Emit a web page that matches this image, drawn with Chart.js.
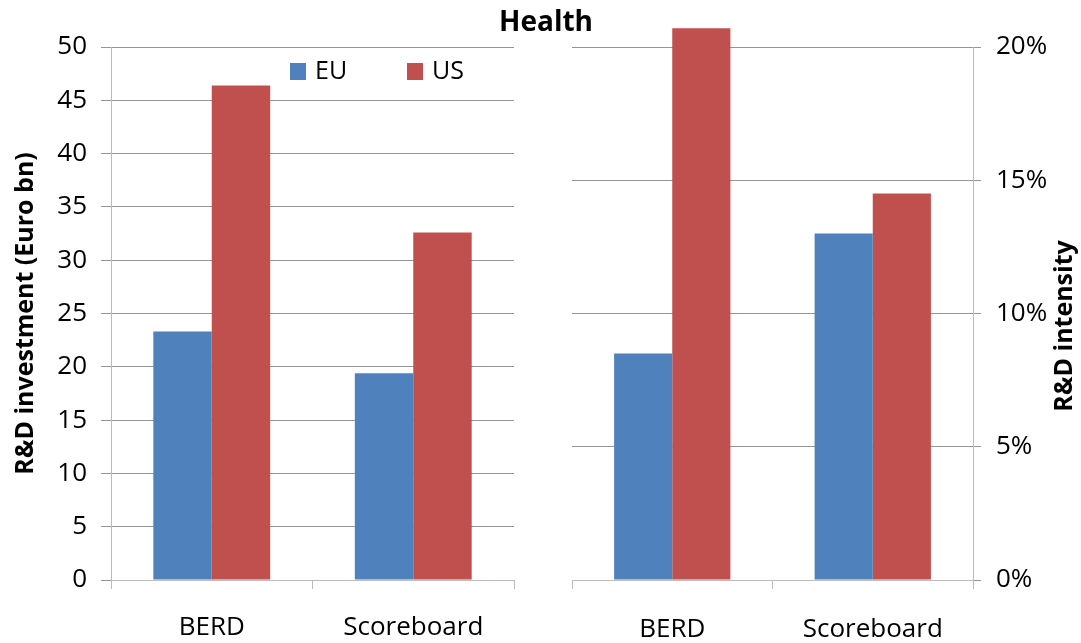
<!DOCTYPE html>
<html>
<head>
<meta charset="utf-8">
<script src="https://cdn.jsdelivr.net/npm/chart.js@4"></script>
<style>
  body { margin: 0; background: #fff; }
  #wrap { position: relative; width: 1081px; height: 643px; }
  canvas { position: absolute; top: 0; }
  #title { position: absolute; left: 0; width: 1092px; top: 1px; text-align: center;
           font: bold 28px 'Open Sans'; color: #000; }
</style>
</head>
<body>
<div id="wrap">
  <canvas id="left" width="540" height="643" style="left:0"></canvas>
  <canvas id="right" width="541" height="643" style="left:540px"></canvas>
  <div id="title">Health</div>
</div>
<script>
// data
const categories = ['BERD', 'Scoreboard'];
const seriesNames = ['EU', 'US'];
const euInvest = [23.3, 19.4];      // Euro bn
const usInvest = [46.4, 32.6];
const euIntensity = [8.5, 13.0];    // %
const usIntensity = [20.7, 14.5];
const investTitle = 'R&D investment (Euro bn)';
const intensityTitle = 'R&D intensity';

const blue = '#4F81BD';
const red = '#C0504D';
const gridGrey = '#959595';
const axisGrey = '#bcbcbc';

Chart.defaults.font.family = "'Open Sans'";
Chart.defaults.color = '#000';

// legend drawn inside the plot area of the left panel
const innerLegend = {
  id: 'innerLegend',
  afterDraw(chart) {
    const ctx = chart.ctx;
    const xs = [290, 407];
    ctx.save();
    chart.data.datasets.forEach((ds, i) => {
      ctx.fillStyle = ds.backgroundColor;
      ctx.fillRect(xs[i], 63, 16, 17);
      ctx.fillStyle = '#000';
      ctx.font = "25px 'Open Sans'";
      ctx.textBaseline = 'middle';
      ctx.fillText(ds.label, xs[i] + 25, 72);
    });
    ctx.restore();
  }
};

// right axis title reads bottom to top like the left one
const rightTitle = {
  id: 'rightTitle',
  afterDraw(chart) {
    const ctx = chart.ctx;
    ctx.save();
    ctx.translate(525, 326);
    ctx.rotate(-Math.PI / 2);
    ctx.font = "bold 25px 'Open Sans'";
    ctx.textAlign = 'center';
    ctx.textBaseline = 'middle';
    ctx.fillStyle = '#000';
    ctx.fillText(intensityTitle, 0, 0);
    ctx.restore();
  }
};

function xAxis(pad) {
  return {
    grid: { offset: true, drawOnChartArea: false, tickLength: 9, color: axisGrey },
    border: { color: axisGrey },
    ticks: { font: { size: 26 }, padding: pad },
    afterFit(s) { s.height = 63; }
  };
}

new Chart(document.getElementById('left'), {
  type: 'bar',
  data: {
    labels: categories,
    datasets: [
      { label: seriesNames[0], data: euInvest, backgroundColor: blue },
      { label: seriesNames[1], data: usInvest, backgroundColor: red }
    ]
  },
  options: {
    responsive: false,
    animation: false,
    layout: { padding: { top: 47, right: 26, left: 0, bottom: 0 } },
    datasets: { bar: { categoryPercentage: 0.58, barPercentage: 1 } },
    plugins: { legend: { display: false }, tooltip: { enabled: false } },
    scales: {
      x: xAxis(23),
      y: {
        min: 0, max: 50,
        ticks: { stepSize: 5, font: { size: 26 }, padding: 14 },
        grid: { color: gridGrey, tickLength: 10 },
        border: { color: axisGrey },
        title: { display: true, text: investTitle, font: { size: 25, weight: 'bold' },
                 padding: { top: 11, bottom: 0 } },
        afterFit(s) { s.width = 111; }
      }
    }
  },
  plugins: [innerLegend]
});

new Chart(document.getElementById('right'), {
  type: 'bar',
  data: {
    labels: categories,
    datasets: [
      { label: seriesNames[0], data: euIntensity, backgroundColor: blue, clip: false },
      { label: seriesNames[1], data: usIntensity, backgroundColor: red, clip: false }
    ]
  },
  options: {
    responsive: false,
    animation: false,
    layout: { padding: { top: 47, right: 0, left: 32, bottom: 0 } },
    datasets: { bar: { categoryPercentage: 0.58, barPercentage: 1 } },
    plugins: { legend: { display: false }, tooltip: { enabled: false } },
    scales: {
      x: xAxis(25),
      y: {
        position: 'right',
        min: 0, max: 20,
        ticks: { stepSize: 5, font: { size: 26 }, padding: 15, callback: v => v + '%' },
        grid: { color: gridGrey, tickLength: 8 },
        border: { color: axisGrey },
        afterFit(s) { s.width = 108; }
      }
    }
  },
  plugins: [rightTitle]
});
</script>
</body>
</html>
